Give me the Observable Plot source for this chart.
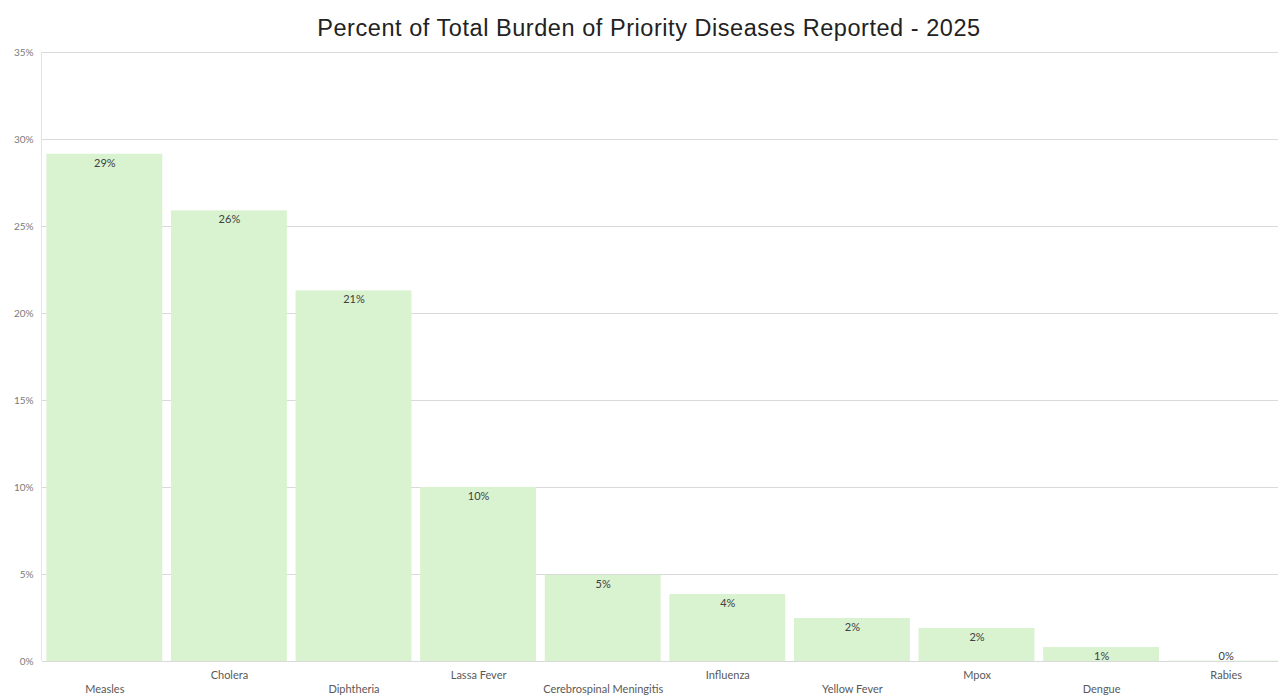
<!DOCTYPE html>
<html>
<head>
<meta charset="utf-8">
<script src="https://cdn.jsdelivr.net/npm/d3@7"></script>
<script src="https://cdn.jsdelivr.net/npm/@observablehq/plot@0.6"></script>
<style>
  html, body { margin: 0; padding: 0; background: #fff; overflow: hidden; width: 1278px; height: 697px; }
  #title {
    height: 44px; box-sizing: border-box; padding-top: 14px; padding-left: 20px;
    width: 1278px; text-align: center; line-height: 28px;
    font-family: "Liberation Sans", Arial, sans-serif; font-size: 23.5px; color: #222;
    letter-spacing: 0.55px;
  }
  #chart { width: 1278px; height: 653px; overflow: hidden; position: relative; }
  #chart svg { display: block; max-width: none; }
</style>
</head>
<body>
<div id="title">Percent of Total Burden of Priority Diseases Reported - 2025</div>
<div id="chart"></div>
<script>
// Share of the total reported burden, per priority disease (percent)
const diseases = ["Measles", "Cholera", "Diphtheria", "Lassa Fever", "Cerebrospinal Meningitis",
                  "Influenza", "Yellow Fever", "Mpox", "Dengue", "Rabies"];
const shares = [29.15, 25.9, 21.3, 10.0, 4.95, 3.85, 2.47, 1.9, 0.8, 0.02];
const yTicks = [0, 5, 10, 15, 20, 25, 30, 35];

const rows = diseases.map((d, i) => ({disease: d, share: shares[i]}));
const upper = diseases.filter((d, i) => i % 2 === 1);
const lower = diseases.filter((d, i) => i % 2 === 0);
const fmt = v => `${Math.round(v)}%`;

const font = "Lato, 'Open Sans', sans-serif";

// The last band runs slightly past the right edge of the frame; the x range
// extends beyond the SVG width and the overflow is clipped.
const chart = Plot.plot({
  width: 1278,
  height: 653,
  marginTop: 8,
  marginLeft: 42,
  marginRight: 0,
  marginBottom: 36,
  style: {fontFamily: font, fontSize: "11px", color: "#595959", background: "#fff", overflow: "hidden", maxWidth: "none"},
  x: {domain: diseases, range: [42, 1288], round: false, paddingInner: 0.07, paddingOuter: 0.035, axis: null, label: null},
  y: {domain: [0, 35], axis: null, label: null},
  marks: [
    Plot.gridY(yTicks, {stroke: "#d9d9d9", strokeOpacity: 1, strokeWidth: 1}),
    Plot.axisY(yTicks, {
      tickSize: 0, tickPadding: 9, tickFormat: d => `${d}%`,
      fontSize: 10, fill: "#7a7a7a", label: null
    }),
    Plot.barY(rows, {x: "disease", y: "share", fill: "#d9f2d0"}),
    Plot.ruleY([0], {stroke: "#d9d9d9"}),
    // value labels just inside the top of each bar
    Plot.text(rows.filter(r => r.share >= 0.5), {
      x: "disease", y: "share", text: r => fmt(r.share), dy: 9,
      fill: "#404040", fontSize: 11
    }),
    Plot.text(rows.filter(r => r.share < 0.5), {
      x: "disease", y: "share", text: r => fmt(r.share), dy: -5,
      fill: "#404040", fontSize: 11
    }),
    // staggered category labels
    Plot.axisX(upper, {tickSize: 0, tickPadding: 10, fontSize: 11, fill: "#595959", label: null}),
    Plot.axisX(lower, {tickSize: 0, tickPadding: 24, fontSize: 11, fill: "#595959", label: null})
  ]
});

// vertical edge of the plot area
d3.select(chart).append("line")
  .attr("x1", 41.5).attr("x2", 41.5).attr("y1", 8).attr("y2", 617)
  .attr("stroke", "#e3e3e3");

document.getElementById("chart").appendChild(chart);
</script>
</body>
</html>
